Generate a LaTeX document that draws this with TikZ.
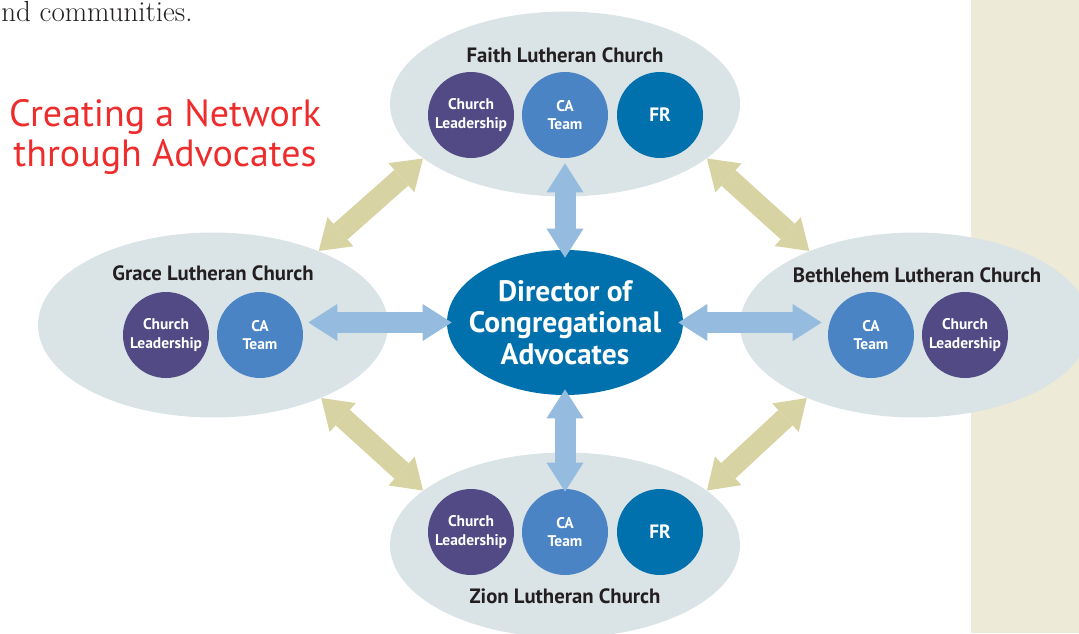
\documentclass[tikz,border=0pt]{standalone}
\usepackage{fontspec}
\setsansfont{PT Sans}
\usetikzlibrary{arrows.meta,shapes.geometric}

\definecolor{cloud}{HTML}{DAE3E6}
\definecolor{leadpurple}{HTML}{514A84}
\definecolor{teamblue}{HTML}{4B84C4}
\definecolor{deepblue}{HTML}{0071AD}
\definecolor{linkblue}{HTML}{95BCDE}
\definecolor{linktan}{HTML}{D8D3A2}
\definecolor{panel}{HTML}{EDEAD7}
\definecolor{titlered}{HTML}{EE2C2C}
\definecolor{inkgray}{HTML}{231F20}

\begin{document}
\begin{tikzpicture}[x=0.02cm, y=-0.02cm,
    church/.style={ellipse, fill=cloud, minimum width=7cm, minimum height=3.7cm, inner sep=0pt},
    cname/.style={font=\sffamily\bfseries\fontsize{11.8}{13}\selectfont, text=inkgray},
    group/.style={circle, minimum size=1.72cm, inner sep=0pt, text=white, align=center,
      font=\sffamily\bfseries\fontsize{8.8}{10.4}\selectfont},
    lead/.style={group, fill=leadpurple},
    team/.style={group, fill=teamblue},
    fr/.style={group, fill=deepblue, font=\sffamily\bfseries\fontsize{11}{12}\selectfont},
    bluelink/.style={linkblue, line width=0.42cm, >={Triangle[width=0.74cm,length=0.58cm,line width=0pt]}, <->},
    tanlink/.style={linktan, line width=0.42cm, >={Triangle[width=0.78cm,length=0.58cm,line width=0pt]}, <->}]
    \clip (0,0) rectangle (1079,633);
    \fill [panel] (971,0) rectangle (1079,633);

    \node [anchor=base west, inner sep=0pt, text=inkgray, font=\fontsize{16.5}{18}\selectfont] (intro) at (1,21) {nd communities.};
    \node [align=center, text=titlered, font=\sffamily\fontsize{21.6}{22.7}\selectfont] (headline) at (165,137) {Creating a Network\\through Advocates};

    \node [church] (faith) at (565,104) {};
    \node [church] (grace) at (213,325) {};
    \node [church] (beth) at (915,325) {};
    \node [church] (zion) at (565,545) {};

    \node [cname] (faithname) at (565,55) {Faith Lutheran Church};
    \node [cname] (gracename) at (213,273) {Grace Lutheran Church};
    \node [cname] (bethname) at (917,275) {Bethlehem Lutheran Church};
    \node [cname] (zionname) at (565,596) {Zion Lutheran Church};

    \node [lead] (faCL) at (471,115) {Church\\Leadership};
    \node [team] (faCA) at (565,115) {CA\\Team};
    \node [fr] (faFR) at (660,115) {FR};
    \node [lead] (grCL) at (166,335) {Church\\Leadership};
    \node [team] (grCA) at (260,335) {CA\\Team};
    \node [team] (beCA) at (871,335) {CA\\Team};
    \node [lead] (beCL) at (965,335) {Church\\Leadership};
    \node [lead] (ziCL) at (471,532) {Church\\Leadership};
    \node [team] (ziCA) at (565,532) {CA\\Team};
    \node [fr] (ziFR) at (660,532) {FR};

    \node [ellipse, fill=deepblue, minimum width=4.72cm, minimum height=2.9cm, inner sep=-1cm,
      text=white, align=center, font=\sffamily\bfseries\fontsize{16.8}{17.9}\selectfont]
      (dir) at (565,322.5) {Director of\\Congregational\\Advocates};

    \draw [bluelink, shorten <=0.1cm, shorten >=-0.16cm] (faCA.south) -- (dir.north);
    \draw [bluelink, shorten <=0.1cm, shorten >=-0.1cm] (grCA.east |- dir.west) -- (dir.west);
    \draw [bluelink, shorten <=-0.1cm, shorten >=0.12cm] (dir.east) -- (dir.east -| beCA.west);
    \draw [bluelink, shorten <=-0.12cm, shorten >=-0.06cm] (dir.south) -- (ziCA.north);

    \draw [tanlink] (faith.201) -- (grace.35);
    \draw [tanlink] (faith.339) -- (beth.145);
    \draw [tanlink] (grace.326) -- (zion.159);
    \draw [tanlink] (beth.214) -- (zion.21);
\end{tikzpicture}
\end{document}
